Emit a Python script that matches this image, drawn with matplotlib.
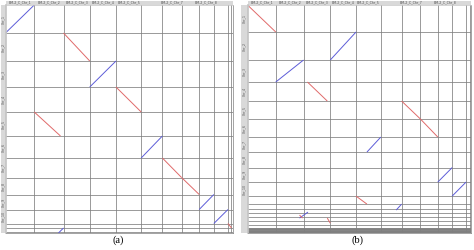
import matplotlib
matplotlib.use("Agg")
import matplotlib.pyplot as plt
from matplotlib.patches import Rectangle
import numpy as np

# Genome en X (BM-2_C), longueurs en Mb
x_chroms = ["BM-2_C_Chr_1", "BM-2_C_Chr_2", "BM-2_C_Chr_3", "BM-2_C_Chr_4", "BM-2_C_Chr_5",
            "", "BM-2_C_Chr_7", "", "BM-2_C_Chr_8", "", "", ""]
x_lengths = [5.7, 5.8, 5.2, 5.2, 5.0, 4.2, 3.8, 3.5, 2.9, 2.8, 0.7, 0.3]

# Genome en Y, panneau (a)
ya_chroms = ["Chr_1", "Chr_2", "Chr_3", "Chr_4", "Chr_5", "Chr_6", "Chr_7",
             "Chr_8", "Chr_9", "Chr_10", "", "", ""]
ya_lengths = [5.6, 5.6, 5.2, 5.0, 4.8, 4.4, 3.9, 3.4, 3.0, 2.8, 0.9, 0.7, 0.3]

# Genome en Y, panneau (b) (beaucoup de petits scaffolds en bas)
yb_chroms = ["Chr_1", "Chr_2", "Chr_3", "Chr_4", "Chr_5", "Chr_6", "Chr_7",
             "Chr_8", "Chr_9", "Chr_10", "", "", "", "", "", "", ""] + [""] * 14
yb_lengths = [5.4, 5.6, 4.4, 3.8, 3.6, 3.6, 3.0, 3.1, 2.9, 2.8,
              1.6, 1.0, 0.8, 0.8, 0.8, 0.7, 0.7] + [0.07] * 14

# Alignements : (chrom x, debut x, fin x, chrom y, debut y, fin y, brin)
segs_a = [
    (0, 0.0, 5.7, 0, 5.6, 0.0, "-"),
    (2, 0.0, 5.2, 1, 0.0, 5.6, "+"),
    (3, 0.0, 5.2, 2, 5.2, 0.0, "-"),
    (4, 0.0, 5.0, 3, 0.0, 5.0, "+"),
    (1, 0.0, 5.2, 4, 0.0, 4.8, "+"),
    (5, 0.0, 4.2, 5, 4.4, 0.0, "-"),
    (6, 0.0, 3.8, 6, 0.0, 3.9, "+"),
    (7, 0.0, 3.5, 7, 0.0, 3.4, "+"),
    (8, 0.0, 2.9, 8, 3.0, 0.0, "-"),
    (9, 0.0, 2.8, 9, 2.8, 0.0, "-"),
    (10, 0.0, 0.7, 10, 0.0, 0.9, "+"),
    (1, 4.8, 5.8, 11, 1.0, 0.0, "-"),
]
segs_b = [
    (0, 0.0, 5.7, 0, 0.0, 5.4, "+"),
    (3, 0.0, 5.2, 1, 5.6, 0.0, "-"),
    (1, 0.0, 5.6, 2, 4.4, 0.0, "-"),
    (2, 0.6, 4.6, 3, 0.0, 3.8, "+"),
    (6, 0.0, 3.8, 4, 0.0, 3.6, "+"),
    (7, 0.0, 3.5, 5, 0.0, 3.6, "+"),
    (4, 2.2, 5.0, 6, 3.0, 0.0, "-"),
    (8, 0.0, 2.9, 8, 2.9, 0.0, "-"),
    (9, 0.0, 2.8, 9, 2.8, 0.0, "-"),
    (4, 0.0, 2.2, 10, 0.0, 1.6, "+"),
    (5, 3.1, 4.2, 11, 1.2, 0.0, "-"),
    (1, 4.8, 6.5, 13, 1.0, -0.2, "-"),
    (1, 4.8, 5.4, 13, 0.4, 1.0, "+"),
    (2, 4.6, 5.2, 14, 0.2, 1.2, "+"),
]

colors = {"+": "#e06a6a", "-": "#5c5cd8"}
grid_color = "#7f7f7f"
strip_color = "#d9d9d9"

W, H = 474, 250
fig = plt.figure(figsize=(W / 100, H / 100), dpi=100)


def dotplot(rect_px, strip_w, y_chroms, y_lengths, segs):
    left, top, right, bottom = rect_px
    ax = fig.add_axes([left / W, 1 - bottom / H, (right - left) / W, (bottom - top) / H])
    x_off = np.concatenate([[0], np.cumsum(x_lengths)])
    y_off = np.concatenate([[0], np.cumsum(y_lengths)])
    ax.set_xlim(0, x_off[-1])
    ax.set_ylim(y_off[-1], 0)
    ax.set_xticks([])
    ax.set_yticks([])
    for s in ax.spines.values():
        s.set_color(grid_color)
        s.set_linewidth(0.5)
    ax.spines["left"].set_color("#c4c4c4")
    ax.spines["left"].set_linewidth(1.2)
    ax.spines["top"].set_color("#c4c4c4")

    for xv in x_off[1:-1]:
        ax.axvline(xv, color=grid_color, lw=0.55)
    for yv in y_off[1:-1]:
        ax.axhline(yv, color=grid_color, lw=0.55)

    for xi, x0, x1, yi, y0, y1, strand in segs:
        ax.plot([x_off[xi] + x0, x_off[xi] + x1], [y_off[yi] + y0, y_off[yi] + y1],
                color=colors[strand], lw=0.7, solid_capstyle="butt")

    # bandeaux gris haut et gauche
    ax.add_patch(Rectangle((0, 1.0), 1.0, 4.5 / (bottom - top), transform=ax.transAxes,
                           color=strip_color, clip_on=False, lw=0))
    ax.add_patch(Rectangle((-strip_w / (right - left), 0), strip_w / (right - left), 1.0,
                           transform=ax.transAxes, color=strip_color, clip_on=False, lw=0))
    for i, name in enumerate(x_chroms):
        if name:
            ax.text((x_off[i] + x_off[i + 1]) / 2, -0.45, name, fontsize=2.3,
                    ha="center", va="center", color="#555555", clip_on=False)
    for i, name in enumerate(y_chroms):
        if name:
            ax.text(-x_off[-1] * (strip_w / 2) / (right - left), (y_off[i] + y_off[i + 1]) / 2,
                    name, fontsize=2.3, rotation=90, ha="center", va="center",
                    color="#555555", clip_on=False)
    return ax


dotplot((5.5, 5, 233, 233), 4.5, ya_chroms, ya_lengths, segs_a)
dotplot((247.5, 5, 471, 233), 6.5, yb_chroms, yb_lengths, segs_b)

fig.text(118 / W, 1 - 240.5 / H, "(a)", fontsize=7.5, family="Liberation Serif",
         ha="center", va="center")
fig.text(358 / W, 1 - 240.5 / H, "(b)", fontsize=7.5, family="Liberation Serif",
         ha="center", va="center")

fig.savefig("out.png", dpi=100)
